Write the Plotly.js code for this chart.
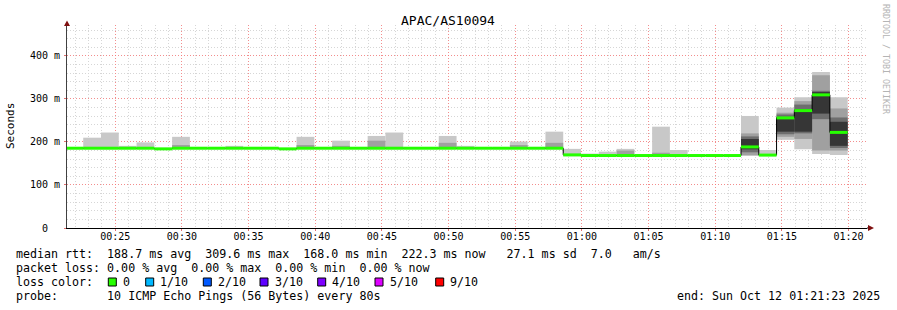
<!DOCTYPE html>
<html><head><meta charset="utf-8">
<script src="https://cdn.plot.ly/plotly-3.0.1.min.js"></script>
<style>html,body{margin:0;padding:0;background:#fff}#chart{width:897px;height:310px}</style>
</head><body><div id="chart"></div>
<script>
const chartTitle = 'APAC/AS10094';
const firstRoundStart = [2025, 9, 12, 0, 21, 16]; // UTC parts: start of first 80 s probe round
const roundSeconds = 80;
const N = null;

// median rtt per probe round (ms)
const median = [185.5,185.5,185.5,185.5,185.5,184,185.5,185.5,185.5,185.5,
  185.5,185.5,184,185.5,185.5,185.5,185.5,185.5,185.5,185.5,
  185.5,185.5,185.5,185.5,185.5,185.5,185.5,185.5,170,168.5,
  168.5,168.5,168.5,168.5,168.5,168.5,168.5,168.5,188.5,169.5,
  256,273,309.6,222.3];

// smoke: outermost ping pair (min..max)
const smoke1Lo = [184,184,184,184,184,182.5,184,184,184,184,
  184,184,182.5,184,184,184,184,184,184,184,
  184,184,184,184,184,184,184,184,167,167,
  167,167,167,167,167,167,167,167,168,168,
  205,183,172,170];
const smoke1Hi = [185.5,210,222,191,199,184,212,185.5,185.5,191,
  185.5,185.5,184,212,185.5,203,188,214,222,188,
  185.5,214,191,185.5,185.5,201,185.5,224,184,173,
  177.5,184,168.5,235.6,181.4,168.5,168.5,168.5,260.5,181.4,
  280,304,363,304];
// second ping pair
const smoke2Lo = [N,N,N,N,N,N,184,N,N,N, N,N,N,184,N,184,N,184,N,N,
  N,184,N,N,N,184,N,184,N,N, N,167,N,167,N,N,N,N,169,N, 212,207,180,180];
const smoke2Hi = [N,N,N,N,N,N,193,N,N,N, N,N,N,193,N,191,N,203,N,N,
  N,198,N,N,N,193,N,198,N,N, N,180,N,175,N,N,N,N,220,N, 268,295,355,278];
// third ping pair
const smoke3Lo = [N,N,N,N,N,N,N,N,N,N, N,N,N,N,N,N,N,N,N,N,
  N,N,N,N,N,N,N,N,N,N, N,N,N,N,N,N,N,N,176,N, 218,220,253,186];
const smoke3Hi = [N,N,N,N,N,N,N,N,N,N, N,N,N,N,N,N,N,N,N,N,
  N,N,N,N,N,N,N,N,N,N, N,N,N,N,N,N,N,N,213,N, 264,287,319,257];
// inner ping pairs
const smoke4Lo = [N,N,N,N,N,N,N,N,N,N, N,N,N,N,N,N,N,N,N,N,
  N,N,N,N,N,N,N,N,N,N, N,N,N,N,N,N,N,N,183,N, 224,224,266,191];
const smoke4Hi = [N,N,N,N,N,N,N,N,N,N, N,N,N,N,N,N,N,N,N,N,
  N,N,N,N,N,N,N,N,N,N, N,N,N,N,N,N,N,N,207,N, 258,276,316,247];

const xTickLabels = ['00:25','00:30','00:35','00:40','00:45','00:50','00:55','01:00','01:05','01:10','01:15','01:20'];
const yTickVals = [0,100,200,300,400];
const yTickLabels = ['0  ','100 m','200 m','300 m','400 m'];
const lossLabels = ['0','1/10','2/10','3/10','4/10','5/10','9/10'];
const lossColors = ['#26ff00','#00b8ff','#0059ff','#5e00ff','#7e00ff','#dd00ff','#ff0000'];
const statsLine = 'median rtt:  188.7 ms avg  309.6 ms max  168.0 ms min  222.3 ms now   27.1 ms sd  7.0   am/s';
const lossLine = 'packet loss: 0.00 % avg  0.00 % max  0.00 % min  0.00 % now';
const probeLine = 'probe:       10 ICMP Echo Pings (56 Bytes) every 80s';
const endLine = 'end: Sun Oct 12 01:21:23 2025';
const watermark = 'RRDTOOL / TOBI OETIKER';

// ---- helpers ----
const pad = n => String(n).padStart(2,'0');
function fmt(ms){const d=new Date(ms);return d.getUTCFullYear()+'-'+pad(d.getUTCMonth()+1)+'-'+pad(d.getUTCDate())+' '+pad(d.getUTCHours())+':'+pad(d.getUTCMinutes())+':'+pad(d.getUTCSeconds());}
const base0 = Date.UTC.apply(null, firstRoundStart);
const stepMs = roundSeconds*1000;
const starts = median.map((_,i)=>base0+i*stepMs);
const nb = s => s.replace(/ /g,'\u00a0');

const traces = [];
function band(lo,hi,color){
  const x=[],y=[],b=[];
  lo.forEach((l,i)=>{ if(l!==null && hi[i]!==null){ x.push(fmt(starts[i]+stepMs/2)); y.push(hi[i]-l); b.push(l);} });
  traces.push({type:'bar',x:x,y:y,base:b,width:stepMs,marker:{color:color,line:{width:0}},hoverinfo:'skip'});
}
band(smoke1Lo,smoke1Hi,'#c8c8c8');
band(smoke2Lo,smoke2Hi,'#a0a0a0');
band(smoke3Lo,smoke3Hi,'#6e6e6e');
band(smoke4Lo,smoke4Hi,'#363636');

// thin dark median step line
const mx = starts.map(fmt).concat([fmt(starts[starts.length-1]+stepMs)]);
const my = median.concat([median[median.length-1]]);
traces.push({type:'scatter',mode:'lines',x:mx,y:my,line:{shape:'hv',color:'#000',width:1},hoverinfo:'skip'});
// green loss-colored median segments
const gx=[],gy=[];
median.forEach((m,i)=>{gx.push(fmt(starts[i]),fmt(starts[i]+stepMs),null);gy.push(m,m,null);});
traces.push({type:'scatter',mode:'lines',x:gx,y:gy,connectgaps:false,line:{color:lossColors[0],width:3},hoverinfo:'skip'});

// pixel -> paper
const L=67,R=867,T=25,B=228;
const px = p => (p-L)/(R-L);
const py = p => (B-p)/(B-T);

const mono = 'DejaVu Sans Mono';
const legendFont = {family:mono,size:11.65,color:'#000'};
const annotations = [];
function txt(s,x,y,xa,font){annotations.push({text:nb(s),xref:'paper',yref:'paper',x:px(x),y:py(y),xanchor:xa||'left',yanchor:'middle',showarrow:false,borderpad:0,borderwidth:0,font:font||legendFont});}
txt(statsLine,16,254.3);
txt(lossLine,16,268.3);
txt('loss color:',16,282.3);
txt(probeLine,16,296.3);
txt(endLine,880,296.3,'right');
const shapes = [];
const boxX = [108.3,145.7,203.3,260,317.7,375,435.7];
lossLabels.forEach((lab,i)=>{
  shapes.push({type:'rect',xref:'paper',yref:'paper',x0:px(boxX[i]),x1:px(boxX[i]+8),y0:py(286),y1:py(278),fillcolor:lossColors[i],line:{color:'#000',width:1}});
  txt(lab,boxX[i]+14.5,282.3);
});
// y axis title
annotations.push({text:'Seconds',xref:'paper',yref:'paper',x:px(11),y:py(126),xanchor:'center',yanchor:'middle',textangle:-90,showarrow:false,font:{family:mono,size:11,color:'#000'}});
// watermark
annotations.push({text:nb(watermark),xref:'paper',yref:'paper',x:px(886),y:py(59),xanchor:'center',yanchor:'middle',textangle:90,showarrow:false,font:{family:mono,size:8.3,color:'#b4b4b4'}});
// axis arrows
shapes.push({type:'line',xref:'paper',yref:'paper',x0:1,x1:px(869),y0:0,y1:0,line:{color:'#000',width:1}});
shapes.push({type:'path',xref:'paper',yref:'paper',path:'M '+px(868)+' '+py(225)+' L '+px(874)+' '+py(228)+' L '+px(868)+' '+py(231)+' Z',fillcolor:'#7f1010',line:{width:0}});
shapes.push({type:'path',xref:'paper',yref:'paper',path:'M '+px(64)+' '+py(26)+' L '+px(67)+' '+py(20.5)+' L '+px(70)+' '+py(26)+' Z',fillcolor:'#7f1010',line:{width:0}});

const day = '2025-10-12 ';
const majorGrid = 'rgba(255,110,110,0.7)';
const minorGrid = '#d6d6d6';
const layout = {
  width:897,height:310,
  margin:{l:L,r:897-R,t:T,b:310-B,pad:0},
  paper_bgcolor:'#fff',plot_bgcolor:'#fff',
  showlegend:false,barmode:'overlay',
  font:{family:mono,size:10,color:'#000'},
  title:{text:chartTitle,xref:'container',yref:'container',x:448/897,y:1-20/310,xanchor:'center',yanchor:'middle',font:{family:mono,size:13,color:'#000'}},
  xaxis:{type:'date',range:[day+'00:21:23',day+'01:21:23'],tickmode:'array',
    tickvals:xTickLabels.map(t=>day+t+':00'),ticktext:xTickLabels,
    ticks:'outside',ticklen:2,tickcolor:'#e07070',ticklabelstandoff:-3,
    showgrid:true,gridcolor:majorGrid,griddash:'1px,2px',gridwidth:1,
    minor:{tickmode:'linear',tick0:day+'00:22:00',dtick:60000,showgrid:true,gridcolor:minorGrid,griddash:'1px,2px',ticks:''},
    showline:true,linecolor:'#000',linewidth:1,zeroline:false,fixedrange:true,
    tickfont:{family:mono,size:10,color:'#000'}},
  yaxis:{range:[0,472],tickmode:'array',tickvals:yTickVals,ticktext:yTickLabels.map(nb),
    ticks:'outside',ticklen:2,tickcolor:'#e07070',ticklabelstandoff:2,
    showgrid:true,gridcolor:majorGrid,griddash:'1px,2px',gridwidth:1,
    minor:{tickmode:'linear',tick0:0,dtick:20,showgrid:true,gridcolor:minorGrid,griddash:'1px,2px',ticks:''},
    showline:true,linecolor:'#404040',linewidth:1,zeroline:false,fixedrange:true,
    tickfont:{family:mono,size:10,color:'#000'}},
  annotations:annotations,shapes:shapes
};
Plotly.newPlot('chart',traces,layout,{staticPlot:true,displayModeBar:false});
</script></body></html>
